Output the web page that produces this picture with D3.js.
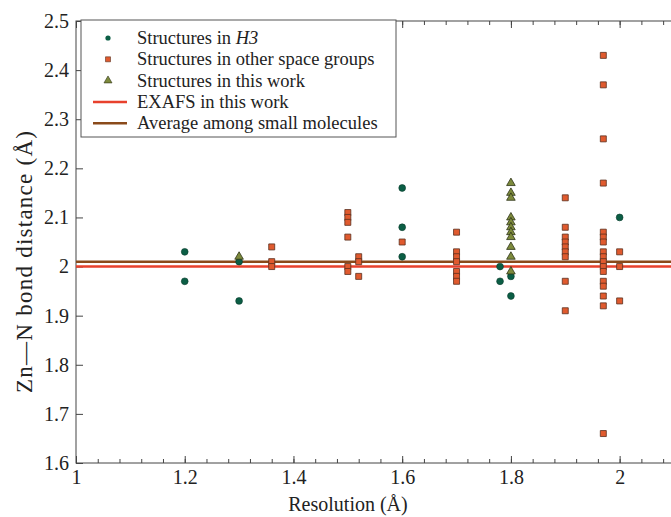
<!DOCTYPE html>
<html>
<head>
<meta charset="utf-8">
<script src="https://cdn.jsdelivr.net/npm/d3@7"></script>
<style>
  body { margin: 0; background: #fff; }
  svg text { font-family: "Liberation Serif", "Times New Roman", serif; fill: #222; }
</style>
</head>
<body>
<div id="grafico"></div>
<script>
// Structures in H3 (circulos verdes)
const h3Res  = [1.2, 1.2, 1.3, 1.3, 1.6, 1.6, 1.6, 1.78, 1.78, 1.8, 1.8, 2.0];
const h3Dist = [2.03, 1.97, 2.01, 1.93, 2.16, 2.08, 2.02, 2.00, 1.97, 1.98, 1.94, 2.10];

// Structures in other space groups (cuadrados naranjas)
const otrosRes = [
  1.36, 1.36, 1.36,
  1.5, 1.5, 1.5, 1.5, 1.5, 1.5,
  1.52, 1.52, 1.52,
  1.6,
  1.7, 1.7, 1.7, 1.7, 1.7, 1.7, 1.7,
  1.9, 1.9, 1.9, 1.9, 1.9, 1.9, 1.9, 1.9, 1.9,
  1.97, 1.97, 1.97, 1.97, 1.97, 1.97, 1.97, 1.97, 1.97, 1.97, 1.97, 1.97, 1.97, 1.97, 1.97, 1.97, 1.97,
  2.0, 2.0, 2.0
];
const otrosDist = [
  2.04, 2.01, 2.00,
  2.11, 2.10, 2.09, 2.06, 2.00, 1.99,
  2.02, 2.01, 1.98,
  2.05,
  2.07, 2.03, 2.02, 2.01, 1.99, 1.98, 1.97,
  2.14, 2.08, 2.06, 2.05, 2.04, 2.03, 2.02, 1.97, 1.91,
  2.43, 2.37, 2.26, 2.17, 2.07, 2.06, 2.05, 2.03, 2.02, 2.01, 2.00, 1.99, 1.97, 1.96, 1.94, 1.92, 1.66,
  2.03, 2.00, 1.93
];

// Structures in this work (triangulos)
const esteRes  = [1.3, 1.8, 1.8, 1.8, 1.8, 1.8, 1.8, 1.8, 1.8, 1.8, 1.8, 1.8];
const esteDist = [2.02, 2.17, 2.15, 2.14, 2.10, 2.09, 2.08, 2.07, 2.06, 2.04, 2.02, 1.99];

// Lineas de referencia
const exafs = 2.00;
const promedio = 2.01;

const xTicks = [1, 1.2, 1.4, 1.6, 1.8, 2];
const yTicks = [1.6, 1.7, 1.8, 1.9, 2, 2.1, 2.2, 2.3, 2.4, 2.5];

const leyendaTextos = [
  "Structures in ", "Structures in other space groups", "Structures in this work",
  "EXAFS in this work", "Average among small molecules"
];

const colores = {
  h3: "#0b5e45",
  otros: "#e05a2e",
  este: "#7d8a3c",
  exafs: "#e8412c",
  promedio: "#8a4a1a"
};

const ancho = 671, alto = 517;
const margen = { top: 21, right: -3, bottom: 54, left: 76 };

const svg = d3.select("#grafico").append("svg")
  .attr("width", ancho).attr("height", alto);

const x = d3.scaleLinear().domain([1, 2.1]).range([margen.left, ancho - margen.right]);
const y = d3.scaleLinear().domain([1.6, 2.5]).range([alto - margen.bottom, margen.top]);

const x0 = x.range()[0], x1 = x.range()[1];
const y0 = y.range()[0], y1 = y.range()[1];

// Marco
svg.append("rect")
  .attr("x", x0).attr("y", y1)
  .attr("width", x1 - x0).attr("height", y0 - y1)
  .attr("fill", "none").attr("stroke", "#444").attr("stroke-width", 1);

const minorX = d3.range(1, 2.1001, 0.04);

// Ejes
function estiloEje(g) {
  g.select(".domain").remove();
  g.selectAll(".tick line").attr("stroke", "#444");
}

svg.append("g").attr("transform", `translate(0,${y0})`)
  .call(d3.axisTop(x).tickValues(minorX).tickSize(4).tickFormat(""))
  .call(estiloEje);
svg.append("g").attr("transform", `translate(0,${y0})`)
  .call(d3.axisBottom(x).tickValues(xTicks).tickSize(0).tickPadding(7).tickFormat(d3.format("")))
  .call(estiloEje)
  .selectAll("text").style("font-size", "20px").attr("fill", "#222");
svg.append("g").attr("transform", `translate(0,${y0})`)
  .call(d3.axisTop(x).tickValues(xTicks).tickSize(7).tickFormat(""))
  .call(estiloEje);
svg.append("g").attr("transform", `translate(0,${y1})`)
  .call(d3.axisBottom(x).tickValues(minorX).tickSize(4).tickFormat(""))
  .call(estiloEje);
svg.append("g").attr("transform", `translate(0,${y1})`)
  .call(d3.axisBottom(x).tickValues(xTicks).tickSize(7).tickFormat(""))
  .call(estiloEje);

svg.append("g").attr("transform", `translate(${x0},0)`)
  .call(d3.axisRight(y).tickValues(yTicks).tickSize(7).tickFormat(""))
  .call(estiloEje);
svg.append("g").attr("transform", `translate(${x0},0)`)
  .call(d3.axisLeft(y).tickValues(yTicks).tickSize(0).tickPadding(7).tickFormat(d3.format("")))
  .call(estiloEje)
  .selectAll("text").style("font-size", "20px").attr("fill", "#222");

// Titulos de ejes
svg.append("text")
  .attr("x", 348).attr("y", 511)
  .attr("text-anchor", "middle").style("font-size", "20px")
  .text("Resolution (Å)");
svg.append("text")
  .attr("transform", `translate(32,262) rotate(-90)`)
  .attr("text-anchor", "middle").style("font-size", "23px")
  .attr("textLength", 262).attr("lengthAdjust", "spacing")
  .text("Zn—N bond distance (Å)");

// Lineas horizontales
svg.append("line")
  .attr("x1", x0).attr("x2", x1).attr("y1", y(promedio)).attr("y2", y(promedio))
  .attr("stroke", colores.promedio).attr("stroke-width", 2.5);
svg.append("line")
  .attr("x1", x0).attr("x2", x1).attr("y1", y(exafs)).attr("y2", y(exafs))
  .attr("stroke", colores.exafs).attr("stroke-width", 2.5);

const puntosH3 = h3Res.map((r, i) => ({ r, d: h3Dist[i] }));
const puntosOtros = otrosRes.map((r, i) => ({ r, d: otrosDist[i] }));
const puntosEste = esteRes.map((r, i) => ({ r, d: esteDist[i] }));

const simboloCuadro = d3.symbol().type(d3.symbolSquare).size(36);
const simboloTri = d3.symbol().type(d3.symbolTriangle).size(32);

svg.append("g").selectAll("circle")
  .data(puntosH3).join("circle")
  .attr("cx", d => x(d.r)).attr("cy", d => y(d.d)).attr("r", 3.4)
  .attr("fill", colores.h3).attr("stroke", "#0a3a2c").attr("stroke-width", 0.6);

svg.append("g").selectAll("path")
  .data(puntosOtros).join("path")
  .attr("d", simboloCuadro)
  .attr("transform", d => `translate(${x(d.r)},${y(d.d)})`)
  .attr("fill", colores.otros).attr("stroke", "#5a3020").attr("stroke-width", 0.8);

svg.append("g").selectAll("path")
  .data(puntosEste).join("path")
  .attr("d", simboloTri)
  .attr("transform", d => `translate(${x(d.r)},${y(d.d)})`)
  .attr("fill", colores.este).attr("stroke", "#2d3316").attr("stroke-width", 0.8);

// Leyenda
const ley = svg.append("g");
ley.append("rect")
  .attr("x", 81).attr("y", 20).attr("width", 315).attr("height", 117)
  .attr("fill", "#fff").attr("stroke", "#555").attr("stroke-width", 1);

const filas = [0, 1, 2, 3, 4].map(i => 38 + i * 21.3);
ley.append("circle").attr("cx", 108).attr("cy", filas[0]).attr("r", 2.6)
  .attr("fill", colores.h3);
ley.append("path").attr("d", d3.symbol().type(d3.symbolSquare).size(25))
  .attr("transform", `translate(108,${filas[1]})`)
  .attr("fill", colores.otros).attr("stroke", "#5a3020").attr("stroke-width", 0.6);
ley.append("path").attr("d", d3.symbol().type(d3.symbolTriangle).size(28))
  .attr("transform", `translate(108,${filas[2]})`)
  .attr("fill", colores.este).attr("stroke", "#2d3316").attr("stroke-width", 0.6);
ley.append("line").attr("x1", 93).attr("x2", 127).attr("y1", filas[3]).attr("y2", filas[3])
  .attr("stroke", colores.exafs).attr("stroke-width", 2.5);
ley.append("line").attr("x1", 93).attr("x2", 127).attr("y1", filas[4]).attr("y2", filas[4])
  .attr("stroke", colores.promedio).attr("stroke-width", 2.5);

leyendaTextos.forEach((t, i) => {
  const txt = ley.append("text").attr("x", 137).attr("y", filas[i] + 6)
    .style("font-size", "18.5px").text(t);
  if (i === 0) txt.append("tspan").style("font-style", "italic").text("H3");
});
</script>
</body>
</html>
